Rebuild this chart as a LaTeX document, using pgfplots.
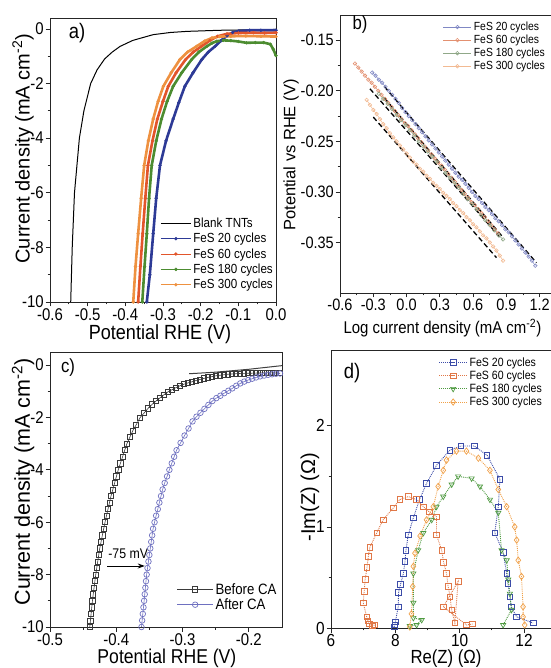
\documentclass[border=0pt]{standalone}
\usepackage{fontspec}
\setmainfont[FakeStretch=0.88]{Liberation Sans}
\newfontfamily\ylfont{Liberation Sans}
\usepackage{pgfplots}
\pgfplotsset{compat=1.18}
\usetikzlibrary{arrows.meta}

\definecolor{aBlue}{HTML}{2D3A96}
\definecolor{aRed}{HTML}{E2552B}
\definecolor{aGreen}{HTML}{4C8C30}
\definecolor{aOrange}{HTML}{EE9140}
\definecolor{bBlue}{HTML}{8088C4}
\definecolor{bRed}{HTML}{E39070}
\definecolor{bGreen}{HTML}{90A888}
\definecolor{bPeach}{HTML}{F2BA92}
\definecolor{cBefore}{HTML}{3A3A3A}
\definecolor{cAfter}{HTML}{6E70C0}
\definecolor{dBlue}{HTML}{3C4CA8}
\definecolor{dRed}{HTML}{E07848}
\definecolor{dGreen}{HTML}{4E9A40}
\definecolor{dOrange}{HTML}{F0A048}

\pgfplotsset{
  myaxis/.style={
    scale only axis, anchor=south west,
    axis line style={line width=0.9pt, black!85},
    every tick/.style={line width=0.8pt, black!85},
    tick align=outside, tick pos=left,
    major tick length=4.5pt, minor tick length=2.5pt,
    /pgf/number format/assume math mode=true,
    tick label style={inner sep=1.5pt},
    legend cell align=left,
  },
}

\begin{document}
\begin{tikzpicture}
%% ---------------- panel a ----------------
\begin{axis}[myaxis, at={(50pt,366pt)}, width=226pt, height=284pt,
  xmin=-0.6, xmax=0, ymin=-10, ymax=0.4,
  xtick={-0.6,-0.5,-0.4,-0.3,-0.2,-0.1,0}, minor x tick num=1,
  ytick={-10,-8,-6,-4,-2,0}, minor y tick num=1,
  xticklabel style={/pgf/number format/.cd, fixed, fixed zerofill, precision=1},
  tick label style={font=\fontsize{17}{17}\selectfont},
  xlabel={Potential RHE (V)},
  ylabel={Current density (mA cm\textsuperscript{-2})},
  xlabel style={font=\fontsize{20.5}{20.5}\selectfont, at={(axis description cs:0.487,-0.115)}, anchor=center},
  ylabel style={font=\ylfont\fontsize{20}{20}\selectfont, at={(axis description cs:-0.119,0.54)}, anchor=center},
  legend style={at={(1,0.03)}, anchor=south east, draw=none, fill=none,
    font=\fontsize{13.2}{15}\selectfont, inner sep=1pt, row sep=0.3pt},
  legend image code/.code={\draw[mark repeat=2,mark phase=2,#1,line width=1pt] plot coordinates {(0pt,0pt) (15pt,0pt) (30pt,0pt)};},
]
\addplot[black, line width=1pt] coordinates {
(-0.545,-10) (-0.541,-8) (-0.535,-6) (-0.522,-4) (-0.51,-3) (-0.492,-2) (-0.475,-1.5)
(-0.455,-1.1) (-0.435,-0.85) (-0.414,-0.64) (-0.38,-0.42) (-0.326,-0.21) (-0.28,-0.13)
(-0.236,-0.09) (-0.15,-0.05) (-0.05,-0.03) (0,-0.02)};
\addlegendentry{Blank TNTs}
\addplot[aBlue, line width=2.6pt, mark=*, mark size=1.5pt, mark options={line width=0.4pt}] coordinates {
(-0.343,-10) (-0.335,-9) (-0.326,-7.5) (-0.318,-6.2) (-0.308,-5) (-0.292,-4.1) (-0.273,-3.3)
(-0.258,-2.7) (-0.242,-2.1) (-0.22,-1.6) (-0.197,-1.12) (-0.18,-0.85) (-0.162,-0.64)
(-0.145,-0.42) (-0.13,-0.25) (-0.115,-0.13) (-0.1,-0.08) (-0.07,-0.05) (-0.04,-0.05) (0,-0.05)};
\addlegendentry{FeS 20 cycles}
\addplot[aRed, line width=2.6pt, mark=*, mark size=1.5pt, mark options={line width=0.4pt}] coordinates {
(-0.366,-10) (-0.36,-8.7) (-0.354,-7.5) (-0.347,-6.2) (-0.34,-5) (-0.328,-4.1) (-0.315,-3.3)
(-0.3,-2.65) (-0.286,-2.1) (-0.265,-1.6) (-0.24,-1.12) (-0.22,-0.85) (-0.198,-0.64)
(-0.175,-0.42) (-0.155,-0.27) (-0.13,-0.18) (-0.1,-0.15) (-0.06,-0.14) (-0.03,-0.15) (0,-0.14)};
\addlegendentry{FeS 60 cycles}
\addplot[aGreen, line width=2.6pt, mark=*, mark size=1.5pt, mark options={line width=0.4pt}] coordinates {
(-0.355,-10) (-0.349,-8.7) (-0.343,-7.5) (-0.337,-6.2) (-0.33,-5) (-0.318,-4.1) (-0.304,-3.3)
(-0.289,-2.65) (-0.273,-2.1) (-0.25,-1.6) (-0.224,-1.12) (-0.205,-0.85) (-0.184,-0.64)
(-0.17,-0.52) (-0.157,-0.45) (-0.14,-0.42) (-0.12,-0.43) (-0.1,-0.46) (-0.078,-0.51)
(-0.055,-0.5) (-0.033,-0.5) (-0.015,-0.56) (-0.007,-0.75) (0,-0.98)};
\addlegendentry{FeS 180 cycles}
\addplot[aOrange, line width=2.6pt, mark=*, mark size=1.5pt, mark options={line width=0.4pt}] coordinates {
(-0.379,-10) (-0.373,-8.7) (-0.366,-7.5) (-0.358,-6.2) (-0.35,-5) (-0.339,-4.1) (-0.326,-3.3)
(-0.313,-2.65) (-0.299,-2.1) (-0.278,-1.6) (-0.255,-1.12) (-0.235,-0.85) (-0.211,-0.64)
(-0.19,-0.45) (-0.17,-0.33) (-0.15,-0.28) (-0.12,-0.27) (-0.08,-0.26) (-0.04,-0.27) (0,-0.28)};
\addlegendentry{FeS 300 cycles}
\node[font=\fontsize{21}{21}\selectfont] at (axis description cs:0.12,0.947) {a)};
\end{axis}

%% ---------------- panel b ----------------
\begin{axis}[myaxis, at={(340pt,375pt)}, width=233pt, height=278pt,
  xmin=-0.6, xmax=1.5, ymin=-0.40, ymax=-0.125,
  xtick={-0.6,-0.3,0,0.3,0.6,0.9,1.2}, minor xtick={-0.45,-0.15,0.15,0.45,0.75,1.05,1.35},
  ytick={-0.35,-0.3,-0.25,-0.2,-0.15}, minor y tick num=1,
  xticklabel style={/pgf/number format/.cd, fixed, fixed zerofill, precision=1},
  yticklabel style={/pgf/number format/.cd, fixed, fixed zerofill, precision=2},
  tick label style={font=\fontsize{16.5}{16.5}\selectfont},
  xlabel={Log current density (mA cm\textsuperscript{-2})},
  ylabel={Potential vs RHE (V)},
  xlabel style={font=\fontsize{17}{17}\selectfont, at={(axis description cs:0,-0.126)}, anchor=west},
  ylabel style={font=\ylfont\fontsize{16.5}{16.5}\selectfont, at={(axis description cs:-0.21,0.496)}, anchor=center},
  legend style={at={(0.893,0.986)}, anchor=north east, draw=none, fill=none,
    font=\fontsize{11.8}{14}\selectfont, inner sep=1pt, row sep=-1pt},
  legend image code/.code={\draw[mark repeat=2,mark phase=2,#1,line width=1pt] plot coordinates {(0pt,0pt) (14pt,0pt) (28pt,0pt)};},
]
\addplot[bBlue, line width=0.5pt, mark=o, mark size=1.8pt, mark options={line width=0.6pt}] coordinates {
(-0.31,-0.182) (-0.28,-0.185) (-0.25,-0.189) (-0.22,-0.192) (-0.19,-0.196) (-0.16,-0.200)
(-0.13,-0.204) (-0.10,-0.208) (-0.07,-0.212) (-0.04,-0.217) (-0.01,-0.221) (0.02,-0.225)
(0.05,-0.229) (0.08,-0.233) (0.11,-0.237) (0.14,-0.241) (0.17,-0.245) (0.20,-0.249)
(0.23,-0.253) (0.26,-0.257) (0.29,-0.261) (0.32,-0.265) (0.35,-0.269) (0.38,-0.273)
(0.41,-0.277) (0.44,-0.281) (0.47,-0.285) (0.50,-0.288) (0.53,-0.292) (0.56,-0.296)
(0.59,-0.300) (0.62,-0.304) (0.65,-0.307) (0.68,-0.311) (0.71,-0.315) (0.74,-0.318)
(0.77,-0.322) (0.80,-0.326) (0.83,-0.329) (0.86,-0.333) (0.89,-0.337) (0.92,-0.340)
(0.95,-0.344) (0.98,-0.348) (1.01,-0.352) (1.04,-0.356) (1.07,-0.360) (1.10,-0.364)
(1.13,-0.368) (1.16,-0.373)};
\addlegendentry{FeS 20 cycles}
\addplot[bRed, line width=0.5pt, mark=o, mark size=1.8pt, mark options={line width=0.6pt}] coordinates {
(-0.465,-0.173) (-0.435,-0.177) (-0.405,-0.181) (-0.375,-0.185) (-0.345,-0.189) (-0.315,-0.192)
(-0.285,-0.196) (-0.255,-0.200) (-0.225,-0.204) (-0.195,-0.208) (-0.165,-0.212) (-0.135,-0.216)
(-0.105,-0.220) (-0.075,-0.224) (-0.045,-0.228) (-0.015,-0.232) (0.015,-0.235) (0.045,-0.239)
(0.075,-0.243) (0.105,-0.247) (0.135,-0.251) (0.165,-0.255) (0.195,-0.259) (0.225,-0.263)
(0.255,-0.267) (0.285,-0.271) (0.315,-0.274) (0.345,-0.278) (0.375,-0.282) (0.405,-0.286)
(0.435,-0.290) (0.465,-0.294) (0.495,-0.298) (0.525,-0.302) (0.555,-0.306) (0.585,-0.310)
(0.615,-0.313) (0.645,-0.317) (0.675,-0.321) (0.705,-0.325) (0.735,-0.329) (0.765,-0.333)
(0.795,-0.337) (0.825,-0.341)};
\addlegendentry{FeS 60 cycles}
\addplot[bGreen, line width=0.5pt, mark=o, mark size=1.8pt, mark options={line width=0.6pt}] coordinates {
(-0.25,-0.203) (-0.21,-0.208) (-0.17,-0.213) (-0.13,-0.218) (-0.09,-0.224) (-0.05,-0.229)
(-0.01,-0.234) (0.03,-0.239) (0.07,-0.244) (0.11,-0.250) (0.15,-0.255) (0.19,-0.260)
(0.23,-0.265) (0.27,-0.270) (0.31,-0.276) (0.35,-0.281) (0.39,-0.286) (0.43,-0.291)
(0.47,-0.296) (0.51,-0.302) (0.55,-0.307) (0.59,-0.312) (0.63,-0.317) (0.67,-0.323)
(0.71,-0.328) (0.75,-0.333) (0.79,-0.338) (0.83,-0.343) (0.87,-0.347)};
\addlegendentry{FeS 180 cycles}
\addplot[bPeach, line width=0.5pt, mark=o, mark size=1.8pt, mark options={line width=0.6pt}] coordinates {
(-0.36,-0.209) (-0.33,-0.214) (-0.30,-0.219) (-0.27,-0.223) (-0.24,-0.228) (-0.21,-0.233)
(-0.18,-0.237) (-0.15,-0.242) (-0.12,-0.246) (-0.09,-0.250) (-0.06,-0.254) (-0.03,-0.258)
(0,-0.262) (0.03,-0.266) (0.06,-0.270) (0.09,-0.273) (0.12,-0.277) (0.15,-0.280)
(0.18,-0.284) (0.21,-0.287) (0.24,-0.291) (0.27,-0.294) (0.30,-0.297) (0.33,-0.301)
(0.36,-0.304) (0.39,-0.307) (0.42,-0.311) (0.45,-0.314) (0.48,-0.318) (0.51,-0.321)
(0.54,-0.325) (0.57,-0.328) (0.60,-0.332) (0.63,-0.335) (0.66,-0.339) (0.69,-0.343)
(0.72,-0.346) (0.75,-0.350) (0.78,-0.354) (0.81,-0.358) (0.84,-0.363) (0.87,-0.368)};
\addlegendentry{FeS 300 cycles}
\addplot[black, line width=1.3pt, dash pattern=on 5pt off 3pt, forget plot] coordinates {(-0.2,-0.196) (1.17,-0.370)};
\addplot[black, line width=1.3pt, dash pattern=on 5pt off 3pt, forget plot] coordinates {(-0.33,-0.198) (0.85,-0.346)};
\addplot[black, line width=1.3pt, dash pattern=on 5pt off 3pt, forget plot] coordinates {(-0.2,-0.207) (0.87,-0.345)};
\addplot[black, line width=1.3pt, dash pattern=on 5pt off 3pt, forget plot] coordinates {(-0.30,-0.226) (0.81,-0.365)};
\node[font=\fontsize{19}{19}\selectfont] at (axis description cs:0.086,0.964) {b)};
\end{axis}

%% ---------------- panel c ----------------
\begin{axis}[myaxis, at={(50pt,41pt)}, width=232pt, height=275pt,
  xmin=-0.5, xmax=-0.15, ymin=-10, ymax=0.5,
  xtick={-0.5,-0.4,-0.3,-0.2}, minor x tick num=1,
  ytick={-10,-8,-6,-4,-2,0}, minor y tick num=1,
  xticklabel style={/pgf/number format/.cd, fixed, fixed zerofill, precision=1},
  tick label style={font=\fontsize{17}{17}\selectfont},
  xlabel={Potential RHE (V)},
  ylabel={Current density (mA cm\textsuperscript{-2})},
  xlabel style={font=\fontsize{20}{20}\selectfont, at={(axis description cs:0.504,-0.113)}, anchor=center},
  ylabel style={font=\ylfont\fontsize{21.5}{21.5}\selectfont, at={(axis description cs:-0.116,0.527)}, anchor=center},
  legend style={at={(0.99,0.047)}, anchor=south east, draw=none, fill=none,
    font=\fontsize{15}{17}\selectfont, inner sep=1pt, row sep=-1pt},
  legend image code/.code={\draw[mark repeat=2,mark phase=2,#1,line width=0.8pt] plot coordinates {(0pt,0pt) (18pt,0pt) (36pt,0pt)};},
]
\addplot[cBefore, line width=0.6pt, mark=square, mark size=2.6pt, mark options={line width=0.7pt}] coordinates {
(-0.4400,-10) (-0.4390,-9.75) (-0.4380,-9.5) (-0.4370,-9.25) (-0.4360,-9) (-0.4348,-8.75)
(-0.4335,-8.5) (-0.4323,-8.25) (-0.4310,-8) (-0.4295,-7.75) (-0.4280,-7.5) (-0.4265,-7.25)
(-0.4250,-7) (-0.4230,-6.75) (-0.4210,-6.5) (-0.4190,-6.25) (-0.4170,-6) (-0.4148,-5.75)
(-0.4125,-5.5) (-0.4103,-5.25) (-0.4080,-5) (-0.4052,-4.75) (-0.4025,-4.5) (-0.3998,-4.25)
(-0.3970,-4) (-0.3938,-3.75) (-0.3905,-3.5) (-0.3873,-3.25) (-0.3840,-3) (-0.3795,-2.75)
(-0.3750,-2.5) (-0.370,-2.28) (-0.364,-2.00) (-0.358,-1.83) (-0.352,-1.65) (-0.346,-1.50)
(-0.340,-1.37) (-0.334,-1.25) (-0.328,-1.13) (-0.322,-1.02) (-0.316,-0.94) (-0.310,-0.86)
(-0.304,-0.79) (-0.298,-0.73) (-0.292,-0.68) (-0.286,-0.64) (-0.280,-0.59) (-0.274,-0.55)
(-0.268,-0.51) (-0.262,-0.47) (-0.256,-0.44) (-0.250,-0.41) (-0.244,-0.39) (-0.238,-0.37)
(-0.232,-0.35) (-0.226,-0.34) (-0.220,-0.33) (-0.214,-0.32) (-0.208,-0.315) (-0.202,-0.31)
(-0.196,-0.31) (-0.190,-0.305) (-0.184,-0.30) (-0.178,-0.30) (-0.172,-0.30) (-0.166,-0.30)
(-0.160,-0.30) (-0.154,-0.30)};
\addlegendentry{Before CA}
\addplot[cAfter, line width=0.6pt, mark=o, mark size=2.8pt, mark options={line width=0.7pt}] coordinates {
(-0.3620,-10) (-0.3610,-9.75) (-0.3600,-9.5) (-0.3590,-9.25) (-0.3580,-9) (-0.3571,-8.75)
(-0.3561,-8.5) (-0.3552,-8.25) (-0.3542,-8) (-0.3529,-7.75) (-0.3515,-7.5) (-0.3501,-7.25)
(-0.3487,-7) (-0.3473,-6.75) (-0.3459,-6.5) (-0.3445,-6.25) (-0.3423,-6) (-0.3399,-5.75)
(-0.3374,-5.5) (-0.3350,-5.25) (-0.3325,-5) (-0.3301,-4.75) (-0.3270,-4.5) (-0.3234,-4.25)
(-0.3199,-4) (-0.3163,-3.75) (-0.3127,-3.5) (-0.3091,-3.25) (-0.303,-2.97) (-0.297,-2.69)
(-0.291,-2.42) (-0.285,-2.15) (-0.279,-1.97) (-0.273,-1.82) (-0.267,-1.67) (-0.261,-1.52)
(-0.255,-1.37) (-0.249,-1.26) (-0.243,-1.17) (-0.237,-1.07) (-0.231,-0.98) (-0.225,-0.89)
(-0.219,-0.79) (-0.213,-0.70) (-0.207,-0.63) (-0.201,-0.57) (-0.195,-0.52) (-0.189,-0.47)
(-0.183,-0.43) (-0.177,-0.40) (-0.171,-0.37) (-0.165,-0.35) (-0.159,-0.33) (-0.153,-0.32)};
\addlegendentry{After CA}
\addplot[black!75, line width=1pt, forget plot] coordinates {(-0.29,-0.33) (-0.25,-0.27) (-0.2,-0.16) (-0.15,-0.02)};
\node[font=\fontsize{14}{14}\selectfont] at (axis cs:-0.382,-7.2) {-75 mV};
\draw[-{Stealth[length=7pt,width=5pt]}, line width=0.9pt] (axis cs:-0.414,-7.67) -- (axis cs:-0.357,-7.67);
\node[font=\fontsize{19}{19}\selectfont] at (axis description cs:0.078,0.945) {c)};
\end{axis}

%% ---------------- panel d ----------------
\begin{axis}[myaxis, at={(331pt,40pt)}, width=222pt, height=278pt,
  xmin=6, xmax=12.9, ymin=0, ymax=2.75,
  xtick={6,8,10,12}, minor x tick num=1,
  ytick={0,1,2}, minor y tick num=1,
  tick label style={font=\fontsize{17.5}{17.5}\selectfont},
  xlabel={Re(Z) (Ω)},
  ylabel={-Im(Z) (Ω)},
  xlabel style={font=\fontsize{19}{19}\selectfont, at={(axis description cs:0.518,-0.11)}, anchor=center},
  ylabel style={font=\ylfont\fontsize{20}{20}\selectfont, at={(axis description cs:-0.095,0.47)}, anchor=center},
  legend style={at={(0.964,0.985)}, anchor=north east, draw=none, fill=none,
    font=\fontsize{12}{14}\selectfont, inner sep=1pt, row sep=-1pt},
  legend image code/.code={\draw[mark repeat=2,mark phase=2,#1,line width=0.9pt] plot coordinates {(0pt,0pt) (14pt,0pt) (28pt,0pt)};},
]
\addplot[dBlue, densely dotted, line width=0.9pt, mark=square, mark size=2.8pt, mark options={solid, line width=0.7pt}] coordinates {
(7.96,0.01) (7.98,0.03) (8.00,0.06) (8.09,0.21) (8.10,0.35) (8.16,0.43) (8.25,0.54) (8.30,0.66)
(8.33,0.77) (8.40,0.92) (8.56,1.09) (8.75,1.27) (8.97,1.43) (9.28,1.61) (9.70,1.76) (10.03,1.80)
(10.45,1.80) (10.85,1.71) (11.25,1.47) (11.20,1.20) (11.09,0.94) (11.35,0.75) (11.46,0.54)
(11.50,0.44) (11.56,0.31) (11.60,0.21) (11.77,0.11) (12.28,0.05)};
\addlegendentry{FeS 20 cycles}
\addplot[dRed, densely dotted, line width=0.9pt, mark=square, mark size=2.8pt, mark options={solid, line width=0.7pt}] coordinates {
(7.35,0.03) (7.28,0.02) (7.20,0.04) (7.15,0.07) (7.11,0.11) (7.00,0.25) (7.03,0.36) (7.06,0.48)
(7.12,0.60) (7.16,0.71) (7.21,0.80) (7.42,0.94) (7.62,1.07) (7.94,1.19) (8.14,1.27) (8.40,1.30)
(8.66,1.27) (8.87,1.20) (9.05,1.15) (9.28,1.10) (9.28,0.92) (9.44,0.77) (9.50,0.65) (9.59,0.54)
(9.64,0.41) (9.70,0.31) (9.75,0.18) (9.85,0.05) (9.95,0.46) (9.49,0.21) (10.21,0.03) (10.40,0.04)};
\addlegendentry{FeS 60 cycles}
\addplot[dGreen, densely dotted, line width=0.9pt, mark=triangle, mark size=3pt, mark options={solid, rotate=180, line width=0.7pt}] coordinates {
(8.45,0.02) (8.66,0.03) (8.82,0.08) (8.56,0.10) (8.56,0.25) (8.56,0.54) (8.71,0.77) (8.87,0.94)
(9.13,1.07) (9.28,1.20) (9.49,1.30) (9.75,1.42) (9.95,1.50) (10.37,1.48) (10.63,1.40) (10.94,1.27)
(11.20,1.14) (11.30,0.77) (11.46,0.67) (11.51,0.48) (11.56,0.34) (11.61,0.18) (11.35,0.03)};
\addlegendentry{FeS 180 cycles}
\addplot[dOrange, densely dotted, line width=0.9pt, mark=diamond, mark size=3.2pt, mark options={solid, line width=0.7pt}] coordinates {
(8.45,0.01) (8.50,0.14) (8.54,0.41) (8.56,0.61) (8.61,0.74) (8.77,0.91) (8.97,1.07) (9.18,1.20)
(9.33,1.40) (9.49,1.56) (9.59,1.66) (9.90,1.75) (10.21,1.75) (10.58,1.68) (10.94,1.56) (11.20,1.37)
(11.46,1.20) (11.71,1.00) (11.77,0.87) (11.82,0.67) (11.92,0.51) (11.97,0.21) (11.97,0.11) (12.02,0.03)};
\addlegendentry{FeS 300 cycles}
\node[font=\fontsize{21}{21}\selectfont] at (axis description cs:0.095,0.917) {d)};
\end{axis}

\pgfresetboundingbox
\useasboundingbox (0pt,0pt) rectangle (550pt,668pt);
\end{tikzpicture}
\end{document}
